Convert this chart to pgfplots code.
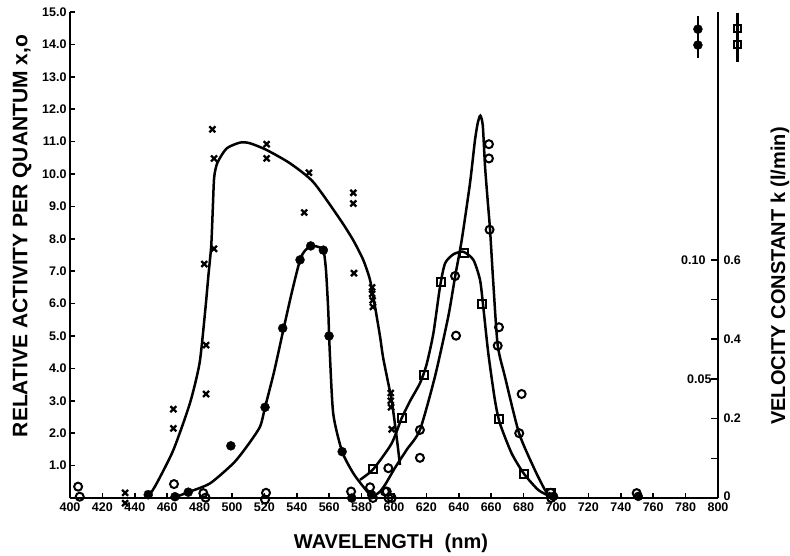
\documentclass[border=0pt]{standalone}
\usepackage{fontspec}
\setmainfont{Liberation Sans}
\usepackage{pgfplots}
\pgfplotsset{compat=1.18}
\begin{document}
\begin{tikzpicture}[font=\bfseries]
\begin{axis}[
  scale only axis, width=648pt, height=486pt,
  xmin=400, xmax=800, ymin=0, ymax=15,
  axis x line=bottom, axis y line=left,
  axis line style={-, line width=1.8pt},
  clip=false,
  xtick={400,420,...,800}, ytick={1,2,...,15},
  tick align=inside, major tick length=5pt,
  tick style={line width=1.5pt, black},
  ticklabel style={font=\fontsize{12.5}{12.5}\selectfont\bfseries},
  /pgf/number format/assume math mode=true,
  yticklabel style={/pgf/number format/.cd, fixed, fixed zerofill, precision=1},
  xticklabel style={yshift=-1.5pt},
]
% curve through crosses
\addplot[smooth, tension=0.4, line width=2.5pt, no marks] coordinates {
(448,0)(453.5,0.45)(463.8,1.48)(474,2.92)(480,4.17)(483.5,5.8)(485.5,6.9)(487.2,7.8)(488.2,9.0)(489,9.9)(491,10.35)(496.7,10.79)(505,10.97)(511,10.95)(521.4,10.74)(535.8,10.33)(550.2,9.75)(566.7,8.6)(574.9,7.95)(581,7.35)(585.2,6.73)(588.3,5.9)(591.4,4.98)(593.4,4.3)(598.5,3.02)(601.6,1.89)(603.7,1.02)};
% curve through filled circles
\addplot[smooth, tension=0.4, line width=2.5pt, no marks] coordinates {
(465.8,0.04)(473,0.18)(486.4,0.45)(500.8,1.07)(509,1.58)(517.3,2.2)(520.4,2.8)(526,3.9)(531.3,5.1)(536.8,6.32)(542,7.35)(545,7.63)(548.6,7.78)(552.5,7.76)(556.4,7.65)(558,7.04)(559.4,5.8)(560.3,4.57)(562.5,2.6)(568,1.43)(574.9,0.76)(581,0.35)(586.2,0.04)};
% curve through squares
\addplot[smooth, tension=0.4, line width=2.5pt, no marks] coordinates {
(579,0.56)(587.2,0.89)(598.5,1.68)(604.7,2.46)(610,3.0)(616,3.54)(620,4.1)(624.3,5.08)(628.4,6.52)(631.5,7.24)(636.6,7.52)(642.8,7.6)(649,7.35)(653.1,6.73)(655.1,5.9)(658.2,4.47)(662.3,3.02)(665.4,2.3)(672.6,1.38)(680.2,0.75)(689,0.25)(696.3,0.05)};
% curve through open circles
\addplot[smooth, tension=0.4, line width=2.5pt, no marks] coordinates {
(586,0.0)(591.4,0.2)(595,0.45)(600.6,0.93)(608,1.5)(616,2.1)(625.3,3.75)(633.5,5.6)(637.7,6.83)(641.8,7.96)(646.9,9.71)(650,11.05)(651.8,11.6)(653.3,11.8)(654.8,11.5)(656.2,10.23)(657.8,9.2)(659.3,8.27)(661.3,6.63)(664,4.72)(668.5,3.74)(677.2,2.0)(687,0.86)(693.2,0.25)(697,0.02)};
% crosses
\addplot[only marks, mark=x, mark size=4.2pt, line width=2.3pt] coordinates {
(434,0.16)(434,-0.16)(448.3,0.12)(463.8,2.74)(463.8,2.15)(484,4.72)(484,3.21)(482.9,7.22)(488.9,7.69)(488.9,10.48)(487.9,11.38)(521.4,10.92)(521.4,10.48)(547.5,10.04)(544.6,8.81)(574.9,9.42)(574.9,9.09)(575.3,6.94)(586.5,6.5)(586.5,6.3)(586.8,6.1)(587,5.9)(598,3.24)(598,3.0)(598.2,2.8)(598.6,2.12)(697.5,0.08)};
% filled circles
\addplot[only marks, mark=*, mark size=4.5pt, black] coordinates {
(448.3,0.1)(464.8,0.04)(473,0.18)(499.3,1.61)(520.4,2.8)(531.3,5.24)(542,7.35)(548.6,7.78)(556.4,7.65)(559.9,5.0)(568,1.43)(573.9,0.0)(586.2,0.1)(698.5,0.05)(750.8,0.05)};
% open circles
\addplot[only marks, mark=o, mark size=4pt, line width=2pt, mark options={fill=white}] coordinates {
(405,0.35)(406,0.04)(464.2,0.43)(482.3,0.15)(483.7,0.01)(521,0.16)(520.4,-0.05)(573.5,0.2)(585.2,0.33)(587,0.0)(594.4,0.2)(596.6,0.0)(598.6,0.0)(595.5,0.2)(596.5,0.92)(616,2.1)(616,1.24)(637.7,6.85)(638.3,5.01)(658.6,10.92)(658.6,10.48)(659,8.28)(664.8,5.27)(664,4.7)(678.8,3.21)(677.3,2.0)(696.7,0.16)(697,0.0)(749.8,0.15)};
% open squares
\addplot[only marks, mark=square, mark size=4pt, line width=2pt, mark options={fill=white}] coordinates {
(587.2,0.89)(604.7,2.46)(618.5,3.79)(629.2,6.68)(643,7.56)(654.5,5.99)(664.6,2.44)(680.2,0.75)(697,0.15)};
% error bars top right
\addplot[line width=2.2pt, no marks] coordinates {(787.6,13.58)(787.6,14.88)};
\addplot[only marks, mark=*, mark size=4.5pt, black] coordinates {(787.6,14.47)(787.6,13.98)};
\addplot[line width=2.2pt, no marks] coordinates {(812,13.46)(812,14.97)};
\addplot[only marks, mark=square, mark size=3.6pt, line width=2pt, mark options={fill=white}] coordinates {(812,14.5)(812,14.0)};
% inner right labels
\node[anchor=east, font=\fontsize{12.5}{12.5}\selectfont\bfseries] at (axis cs:800,7.35) [xshift=-9pt] {0.10};
\node[anchor=east, font=\fontsize{12.5}{12.5}\selectfont\bfseries] at (axis cs:800,3.675) [xshift=-3pt] {0.05};
\end{axis}
\begin{axis}[
  scale only axis, width=648pt, height=486pt,
  xmin=400, xmax=800, ymin=0, ymax=15,
  axis x line=none, axis y line=right,
  axis line style={-, line width=1.8pt},
  ytick={0,1.225,2.45,3.675,4.9,6.125,7.35},
  yticklabels={\raisebox{4.5pt}{0},,0.2,,0.4,,0.6},
  tick align=inside, major tick length=7pt,
  tick style={line width=1.5pt, black},
  ticklabel style={font=\fontsize{12.5}{12.5}\selectfont\bfseries},
  yticklabel style={xshift=2pt},
]
\end{axis}
\node[rotate=90, font=\fontsize{21}{21}\selectfont\bfseries] at (-48pt,262pt) {RELATIVE ACTIVITY PER QUANTUM x,o};
\node[rotate=90, font=\fontsize{20}{20}\selectfont\bfseries] at (710pt,222pt) {VELOCITY CONSTANT k (l/min)};
\node[font=\fontsize{20}{20}\selectfont\bfseries] at (321pt,-45pt) {WAVELENGTH\ \ (nm)};
\pgfresetboundingbox
\useasboundingbox (-70pt,-58pt) rectangle (720pt,498pt);
\end{tikzpicture}
\end{document}
